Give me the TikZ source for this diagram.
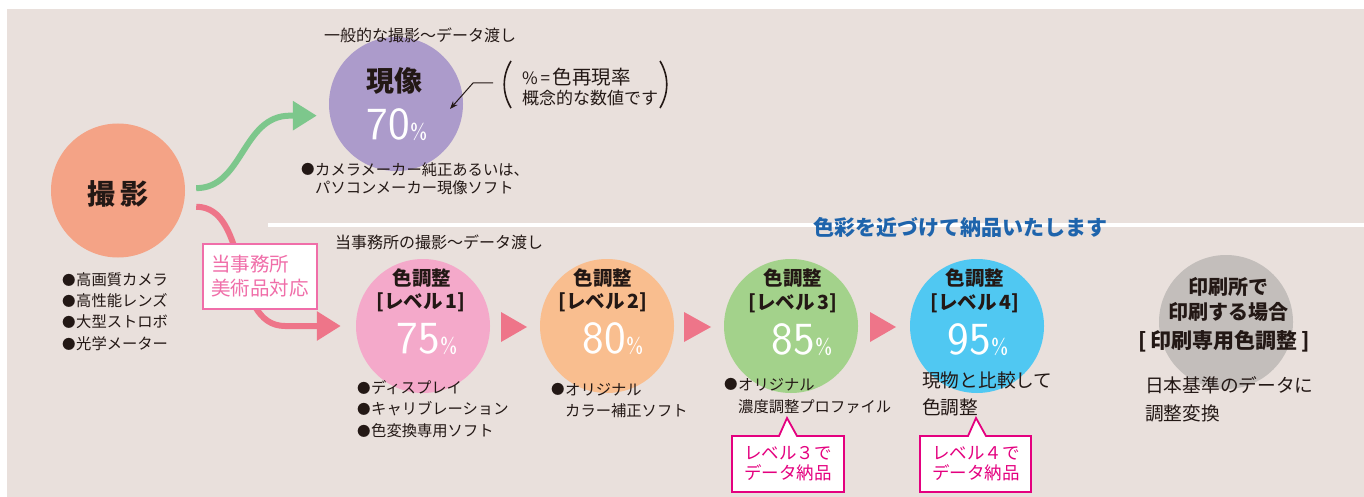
\documentclass[tikz,border=0pt]{standalone}
\usepackage{fontspec}
\setmainfont{Noto Sans CJK JP}
\usetikzlibrary{arrows.meta}
\definecolor{bgc}{HTML}{E9E0DC}
\definecolor{ink}{HTML}{231815}
\definecolor{csatsuei}{HTML}{F4A386}
\definecolor{cgenzo}{HTML}{AC9BCB}
\definecolor{clone}{HTML}{F4A9CA}
\definecolor{cltwo}{HTML}{F9BE8F}
\definecolor{clthree}{HTML}{A3D28B}
\definecolor{clfour}{HTML}{50C8F2}
\definecolor{cgray}{HTML}{C3BEBB}
\definecolor{cgreen}{HTML}{7DC78C}
\definecolor{cpink}{HTML}{EE7589}
\definecolor{cboxpink}{HTML}{F06EA9}
\definecolor{cmag}{HTML}{E4007F}
\definecolor{cblue}{HTML}{1E64AC}
\newcommand{\myfs}[1]{\fontsize{#1}{#1}\selectfont}
\newcommand{\bul}{\raisebox{0.8pt}{\myfs{13.5}●}\hspace{0.5pt}}
\begin{document}
\begin{tikzpicture}[x=1pt,y=-1pt,text=ink,
  bubble/.style={circle, inner sep=0pt, minimum size=134pt},
  txt/.style={inner sep=0pt, anchor=west, font=\myfs{15.3}},
  big/.style={inner sep=0pt, anchor=west, font=\myfs{18.7}},
  head/.style={inner sep=0pt, font=\bfseries\myfs{19.5}},
  ghead/.style={inner sep=0pt, font=\bfseries\myfs{20}},
  captext/.style={inner sep=0pt, font=\myfs{16}},
  pct/.style={inner sep=0pt, text=white, anchor=base, font=\sffamily\myfs{46}},
  flowarrow/.style={line width=6pt, -{Triangle[length=24pt,width=28pt]}},
  flowtri/.style={fill=cpink},
  callout/.style={draw=cmag, fill=white, line width=1.8pt},
  calltext/.style={inner sep=0pt, text=cmag, align=center, font=\fontsize{17.5}{20}\selectfont}
]
\useasboundingbox (0,0) rectangle (1364,497);
\fill[bgc] (7,9) rectangle (1364,497);
\draw[white, line width=4.5pt] (268,225) -- (1364,225);

% --- 撮影 ---
\node[bubble, fill=csatsuei] (satsuei) at (118,190.5) {};
\node[inner sep=0pt, font=\bfseries\myfs{28}] (satsueiT) at (118,194) {撮\hspace{6pt}影};
\node[txt] (sb1) at (62,280) {\bul 高画質カメラ};
\node[txt] (sb2) at (62,301) {\bul 高性能レンズ};
\node[txt] (sb3) at (62,322) {\bul 大型ストロボ};
\node[txt] (sb4) at (62,344) {\bul 光学メーター};

% --- 現像 ---
\node[bubble, fill=cgenzo] (genzo) at (396,104) {};
\node[captext] (cap1) at (420,35) {一般的な撮影～データ渡し};
\node[inner sep=0pt, font=\bfseries\myfs{28}] (genzoT) at (394,81) {現像};
\node[pct] (genzoP) at (397,140) {70{\myfs{22}\%}};
\node[txt] (gb1) at (301,170) {\bul カメラメーカー純正あるいは、};
\node[txt] (gb2) at (315,188) {パソコンメーカー現像ソフト};

% note
\node[inner sep=0pt, anchor=west] (n1) at (522,77) {{\myfs{17}\%\,=\,}{\myfs{19.5}色再現率}};
\node[inner sep=0pt, anchor=west, font=\myfs{17}] (n2) at (522,98) {概念的な数値です};
\coordinate (na) at (493,83);
\coordinate (nb) at (473,83);
\coordinate (nt) at (450,109);
\draw[ink, line width=1pt, -{Stealth[length=8pt,width=6pt]}] (na) -- (nb) -- (nt);
\draw[ink, line width=1.6pt] (511,61) .. controls (502,76) and (502,93) .. (511,108);
\draw[ink, line width=1.6pt] (660,61) .. controls (669,76) and (669,93) .. (660,108);

% --- green arrow ---
\coordinate (bendg) at (290,0);
\draw[cgreen, flowarrow, shorten <=11pt, shorten >=13pt]
  (satsuei.2) .. controls +(58,0) and +(-48,0) .. (genzo.190 -| bendg) -- (genzo.190);

% --- level circles ---
\node[bubble, fill=clone] (l1) at (423,326) {};
\node[bubble, fill=cltwo] (l2) at (607,326) {};
\node[bubble, fill=clthree] (l3) at (791,326) {};
\node[bubble, fill=clfour] (l4) at (977,326) {};
\node[bubble, fill=cgray] (pr) at (1226,322) {};

% --- pink arrow ---
\coordinate (bendp) at (285,0);
\draw[cpink, flowarrow, shorten <=13pt, shorten >=15pt]
  (satsuei.-14) .. controls +(67,0) and +(-55,0) .. (l1.west -| bendp) -- (l1.west);
\node[draw=cboxpink, line width=2.6pt, fill=white, text=cboxpink, minimum width=114pt, minimum height=65pt, inner sep=0pt, align=left, font=\fontsize{19.5}{24}\selectfont] (bijutsu) at (260,276.5) {当事務所\\美術品対応};

\node[captext] (cap2) at (439,242) {当事務所の撮影～データ渡し};
\node[inner sep=0pt, text=cblue, font=\bfseries\myfs{21}] (blue) at (960,227) {色彩を近づけて納品いたします};

% triangles
\fill[flowtri] (501,312) -- (527,327) -- (501,342) -- cycle;
\fill[flowtri] (684,312) -- (711,327) -- (684,342) -- cycle;
\fill[flowtri] (870,312) -- (896,327) -- (870,342) -- cycle;

% L1
\node[head] (l1a) at (422,278) {色調整};
\node[head] (l1b) at (421,302) {[レベル\,1]};
\node[pct] (l1c) at (427,353) {75{\myfs{22}\%}};
\node[txt] (l1d) at (357,388) {\bul ディスプレイ};
\node[txt] (l1e) at (357,409) {\bul キャリブレーション};
\node[txt] (l1f) at (357,431) {\bul 色変換専用ソフト};
% L2
\node[head] (l2a) at (603,278) {色調整};
\node[head] (l2b) at (603,302) {[レベル\,2]};
\node[pct] (l2c) at (613,353) {80{\myfs{22}\%}};
\node[txt] (l2d) at (551,390) {\bul オリジナル};
\node[txt] (l2e) at (565,411) {カラー補正ソフト};
% L3
\node[head] (l3a) at (793,278) {色調整};
\node[head] (l3b) at (793,303) {[レベル\,3]};
\node[pct] (l3c) at (802,354) {85{\myfs{22}\%}};
\node[txt] (l3d) at (724,385) {\bul オリジナル};
\node[txt] (l3e) at (738,407) {濃度調整プロファイル};
% L4
\node[head] (l4a) at (975,278) {色調整};
\node[head] (l4b) at (975,303) {[レベル\,4]};
\node[pct] (l4c) at (978,354) {95{\myfs{22}\%}};
\node[big] (l4d) at (922,380) {現物と比較して};
\node[big] (l4e) at (922,407) {色調整};
% print
\node[ghead] (pra) at (1228,287) {印刷所で};
\node[ghead] (prb) at (1228,312) {印刷する場合};
\node[ghead, font=\bfseries\myfs{21}] (prc) at (1224,341) {[\hspace{4pt}印刷専用色調整\hspace{4pt}]};
\node[big] (prd) at (1145,385) {日本基準のデータに};
\node[big] (pre) at (1145,413) {調整変換};

% callouts
\coordinate (c3nw) at (732,436);
\coordinate (c3se) at (844,492);
\filldraw[callout] (c3nw) -- (779,436) -- (787,418) -- (797,436) -- (c3nw -| c3se) -- (c3se) -- (c3nw |- c3se) -- cycle;
\node[calltext] (c3) at (788,464) {レベル３で\\データ納品};
\coordinate (c4nw) at (920,436);
\coordinate (c4se) at (1031,492);
\filldraw[callout] (c4nw) -- (968,436) -- (976,418) -- (986,436) -- (c4nw -| c4se) -- (c4se) -- (c4nw |- c4se) -- cycle;
\node[calltext] (c4) at (976,464) {レベル４で\\データ納品};
\end{tikzpicture}
\end{document}
